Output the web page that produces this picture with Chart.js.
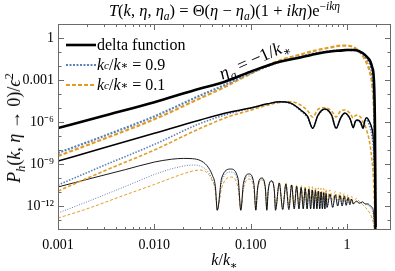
<!DOCTYPE html>
<html>
<head>
<meta charset="utf-8">
<script src="https://cdn.jsdelivr.net/npm/chart.js@4.4.1/dist/chart.umd.min.js"></script>
<style>
  html, body { margin:0; padding:0; background:#fff; }
  #wrap { position:relative; width:395px; height:271px; font-family:"Liberation Serif","DejaVu Serif",serif; color:#000; }
  #chart { position:absolute; left:0; top:0; }
  .txt { position:absolute; white-space:nowrap; line-height:1; }
  .title { left:0; width:449px; top:3px; text-align:center; font-size:16.5px; }
  .xlab { left:0; width:449px; top:252px; text-align:center; font-size:16px; }
  .ylab { left:14px; top:128px; font-size:18px; transform:translate(-50%,-50%) rotate(-90deg); }
  .anno { left:254px; top:59px; font-size:18px; transform:translate(-50%,-50%) rotate(-24deg); }
  .leg { left:66px; font-size:16px; display:flex; align-items:center; }
  .leg svg { margin-right:1px; }
  sub, sup { font-size:70%; line-height:0; }
  i { font-style:italic; }
</style>
</head>
<body>
<div id="wrap">
  <canvas id="chart" width="395" height="271"></canvas>
  <div class="txt title"><i>T</i>(<i>k</i>, <i>η</i>, <i>η</i><sub><i>a</i></sub>) = Θ(<i>η</i> − <i>η</i><sub><i>a</i></sub>)(1 + <i>ikη</i>)e<sup>−<i>ikη</i></sup></div>
  <div class="txt xlab"><i>k</i>/<i>k</i><sub>∗</sub></div>
  <div class="txt ylab"><i>P</i><sub><i>h</i></sub>(<i>k</i>, <i>η</i> → 0)/<i>ϵ</i><sup>2</sup></div>
  <div class="txt anno"><i>η</i><sub><i>a</i></sub> = −1/<i>k</i><sub>∗</sub></div>
  <div class="txt leg" style="top:37px"><svg width="30" height="6"><line x1="0" y1="3" x2="30" y2="3" stroke="#000" stroke-width="2.6"/></svg>delta function</div>
  <div class="txt leg" style="top:57px"><svg width="30" height="6"><line x1="0" y1="3" x2="30" y2="3" stroke="#5E81B5" stroke-width="2.2" stroke-dasharray="2 1.5"/></svg><i>k</i><sub><i>c</i></sub>/<i>k</i><sub>∗</sub>&nbsp;= 0.9</div>
  <div class="txt leg" style="top:77px"><svg width="30" height="6"><line x1="0" y1="3" x2="30" y2="3" stroke="#E19C24" stroke-width="2.2" stroke-dasharray="4 2"/></svg><i>k</i><sub><i>c</i></sub>/<i>k</i><sub>∗</sub>&nbsp;= 0.1</div>
</div>
<script>
/********************
 * Data
 * values are log10 of P_h(k, eta->0)/eps^2
 ********************/
const xTickVals = [0.001, 0.01, 0.1, 1];
const xTickLabels = ["0.001", "0.010", "0.100", "1"];
const yTickVals = [1, 1e-3, 1e-6, 1e-9, 1e-12];
const yTickLabels = ["1", "0.001", "10⁻⁶", "10⁻⁹", "10⁻¹²"];

// eta_a = -1/k*  (thick curves)
const kThick = [0.001, 0.003, 0.01, 0.03, 0.05, 0.1, 0.2, 0.3, 0.5, 0.7, 0.85, 1, 1.2, 1.45, 1.65, 1.75, 1.82, 1.9, 1.95, 1.99];
const thickDelta = [-6.43, -5.55, -4.58, -3.6, -3.2, -2.4, -1.7, -1.45, -1.1, -0.95, -0.9, -0.86, -0.86, -1.07, -1.43, -1.7, -2.07, -3.0, -6.6, -17];
const thickKc09  = [-8.21, -7.0, -5.6, -4.1, -3.45, -2.5, -1.7, -1.4, -1.05, -0.92, -0.87, -0.85, -0.88, -1.15, -1.6, -2.0, -2.6, -4.5, -9, -17];
const thickKc01  = [-8.43, -7.2, -5.8, -4.3, -3.6, -2.55, -1.6, -1.25, -0.85, -0.65, -0.55, -0.55, -0.7, -1.25, -2.0, -2.6, -3.3, -5, -8, -17];

// middle curves
const kMid = [0.001, 0.003, 0.01, 0.03, 0.06, 0.1, 0.15, 0.2, 0.26, 0.33, 0.39, 0.44, 0.5, 0.59, 0.69, 0.77,
              0.86, 0.95, 1.08, 1.16, 1.22, 1.27, 1.38, 1.47, 1.53, 1.6, 1.7, 1.8, 1.88, 1.93, 1.97, 1.99];
const midDelta = [-8.79, -7.84, -6.8, -5.85, -5.3, -5.0, -4.7, -4.55, -4.65, -5.14, -5.6, -6.45, -5.5, -5.07, -5.5, -6.45,
                  -5.7, -5.36, -5.8, -6.4, -5.95, -5.86, -6.0, -6.45, -5.9, -5.7, -5.95, -6.4, -7.2, -9, -12, -17];
const midKc09  = [-10.5, -9.1, -7.6, -6.1, -5.4, -5.0, -4.72, -4.58, -4.68, -5.2, -5.7, -6.45, -5.55, -5.1, -5.5, -6.45,
                  -5.7, -5.4, -5.8, -6.4, -6.0, -5.9, -6.05, -6.45, -6.0, -5.85, -6.2, -6.9, -8, -10, -13, -17];
const midKc01  = [-10.93, -9.5, -8.0, -6.45, -5.6, -5.15, -4.8, -4.6, -4.55, -4.79, -5.2, -5.64, -5.1, -4.98, -5.2, -5.64,
                  -5.2, -5.14, -5.4, -5.71, -5.55, -5.5, -5.65, -6.0, -6.2, -6.6, -7.3, -8.5, -10, -12, -14, -17];

// thin curves (fast oscillations)
const kThin = [
  0.001, 0.002, 0.005, 0.01, 0.015, 0.02, 0.025, 0.03, 0.035, 0.04, 0.043,
  0.045, 0.05, 0.062, 0.074,  0.079, 0.084, 0.096, 0.108,  0.113, 0.118, 0.13, 0.142,  0.147, 0.152, 0.164, 0.176,
  0.181, 0.198, 0.215, 0.232, 0.249, 0.266, 0.283, 0.300, 0.317, 0.334,
  0.351, 0.368, 0.385, 0.402, 0.419, 0.436, 0.453, 0.470, 0.487, 0.504,
  0.521, 0.538, 0.555, 0.572, 0.589, 0.606,
  0.62, 0.665, 0.71, 0.755, 0.8, 0.845, 0.89, 0.935, 0.98, 1.025, 1.07, 1.115, 1.16,
  1.25, 1.35, 1.45, 1.55, 1.65, 1.75, 1.82, 1.88, 1.93, 1.96, 1.99
];
const thinDelta = [
  -10.64, -10.1, -9.4, -8.86, -8.66, -8.6, -8.62, -8.75, -9.1, -9.8, -10.6,
  -12.3, -10.0, -9.36, -10.05,  -12.3, -10.4, -9.71, -10.4,  -12.3, -10.7, -10.0, -10.7,  -12.3, -10.9, -10.2, -10.9,
  -12.3, -10.36, -12.25, -10.43, -12.25, -10.5, -12.2, -10.6, -12.2, -10.68,
  -12.2, -10.75, -12.2, -10.8, -12.2, -10.85, -12.2, -10.9, -12.2, -10.95,
  -12.2, -11.0, -12.2, -11.05, -12.2, -11.1,
  -12.1, -11.15, -12.1, -11.2, -12.0, -11.25, -12.0, -11.3, -11.95, -11.4, -11.9, -11.5, -11.85,
  -11.65, -11.8, -11.7, -11.85, -11.85, -12.0, -12.1, -12.4, -13.5, -15, -17
];
const thinKc09 = [
  -12.5, -11.7, -10.6, -9.75, -9.35, -9.15, -9.07, -9.15, -9.45, -10.1, -10.8,
  -12.3, -10.3, -9.57, -10.3,  -12.3, -10.6, -9.86, -10.6,  -12.3, -10.75, -10.05, -10.75,  -12.3, -10.9, -10.22, -10.9,
  -12.3, -10.38, -12.25, -10.45, -12.25, -10.52, -12.2, -10.6, -12.2, -10.68,
  -12.2, -10.75, -12.2, -10.8, -12.2, -10.85, -12.2, -10.9, -12.2, -10.95,
  -12.2, -11.0, -12.2, -11.05, -12.2, -11.1,
  -12.1, -11.15, -12.1, -11.2, -12.0, -11.25, -12.0, -11.3, -11.95, -11.4, -11.9, -11.5, -11.85,
  -11.7, -11.8, -11.75, -11.9, -11.95, -12.1, -12.3, -12.7, -14, -15.5, -17
];
const thinKc01 = [
  -12.86, -12.2, -11.2, -10.46, -10.0, -9.7, -9.5, -9.43, -9.6, -10.2, -10.9,
  -12.3, -10.7, -9.93, -10.7,  -12.3, -10.8, -10.07, -10.8,  -12.3, -10.85, -10.14, -10.85,  -12.2, -10.9, -10.2, -10.9,
  -12.1, -10.29, -12.0, -10.36, -11.9, -10.43, -11.85, -10.48, -11.8, -10.53,
  -11.75, -10.57, -11.7, -10.6, -11.7, -10.63, -11.65, -10.66, -11.65, -10.7,
  -11.6, -10.72, -11.6, -10.75, -11.6, -10.8,
  -11.6, -10.85, -11.6, -10.95, -11.6, -11.0, -11.65, -11.1, -11.65, -11.2, -11.7, -11.3, -11.75,
  -11.45, -11.7, -11.9, -12.1, -12.3, -12.6, -12.86, -13.3, -14, -15, -17
];

/********************
 * Styling helpers
 ********************/
const BLUE = "#5E81B5";
const ORANGE = "#E19C24";

function pts(ks, logs){
  return ks.map((k, i) => ({ x: k, y: Math.pow(10, logs[i]) }));
}

function line(ks, logs, color, width, dash){
  return {
    data: pts(ks, logs),
    borderColor: color,
    borderWidth: width,
    borderDash: dash || [],
    pointRadius: 0,
    fill: false,
    cubicInterpolationMode: "monotone"
  };
}

/********************
 * Frame + inward ticks (Mathematica style)
 ********************/
const frameTicks = {
  id: "frameTicks",
  afterDraw(chart){
    const { ctx, chartArea: a, scales } = chart;
    const xs = scales.x, ys = scales.y;
    ctx.save();
    ctx.strokeStyle = "#6b6b6b";
    ctx.lineWidth = 1;
    ctx.strokeRect(a.left + 0.5, a.top + 0.5, a.right - a.left - 1, a.bottom - a.top - 1);

    function tickX(v, len){
      const px = Math.round(xs.getPixelForValue(v)) + 0.5;
      if(px <= a.left + 1 || px >= a.right - 1) return;
      ctx.beginPath();
      ctx.moveTo(px, a.bottom); ctx.lineTo(px, a.bottom - len);
      ctx.moveTo(px, a.top); ctx.lineTo(px, a.top + len);
      ctx.stroke();
    }
    function tickY(v, len){
      const py = Math.round(ys.getPixelForValue(v)) + 0.5;
      if(py <= a.top + 1 || py >= a.bottom - 1) return;
      ctx.beginPath();
      ctx.moveTo(a.left, py); ctx.lineTo(a.left + len, py);
      ctx.moveTo(a.right, py); ctx.lineTo(a.right - len, py);
      ctx.stroke();
    }

    for(let d = -3; d <= 0; d++){
      tickX(Math.pow(10, d), 6);
      for(let m = 2; m <= 9; m++) tickX(m * Math.pow(10, d), 3);
    }
    for(let d = -13; d <= 1; d++){
      tickY(Math.pow(10, d), d % 3 === 0 ? 6 : 3.5);
    }
    ctx.restore();
  }
};

/********************
 * Chart
 ********************/
const ctx = document.getElementById("chart").getContext("2d");
new Chart(ctx, {
  type: "line",
  data: {
    datasets: [
      line(kThick, thickDelta, "#000", 2.6),
      line(kThick, thickKc09, BLUE, 2.2, [2, 1.5]),
      line(kThick, thickKc01, ORANGE, 2.2, [4, 2]),
      line(kMid, midDelta, "#000", 1.5),
      line(kMid, midKc09, BLUE, 1.6, [1.5, 1.5]),
      line(kMid, midKc01, ORANGE, 1.6, [3.5, 2]),
      line(kThin, thinDelta, "#000", 0.9),
      line(kThin, thinKc09, BLUE, 1, [1, 1.5]),
      line(kThin, thinKc01, ORANGE, 1, [3, 2])
    ]
  },
  options: {
    responsive: false,
    animation: false,
    layout: { padding: { left: 0, right: 4, top: 24, bottom: 0 } },
    plugins: { legend: { display: false }, tooltip: { enabled: false } },
    scales: {
      x: {
        type: "logarithmic",
        min: 0.001,
        max: 2.86,
        afterBuildTicks: s => { s.ticks = xTickVals.map(v => ({ value: v })); },
        afterFit: s => { s.height = 41; },
        grid: { display: false, drawTicks: false },
        border: { display: false },
        ticks: {
          autoSkip: false, maxRotation: 0, padding: 7, color: "#000",
          font: { family: "Liberation Serif", size: 14 },
          callback: (v, i) => xTickLabels[i]
        }
      },
      y: {
        type: "logarithmic",
        min: 1.94e-14,
        max: 10,
        afterBuildTicks: s => { s.ticks = yTickVals.map(v => ({ value: v })); },
        afterFit: s => { s.width = 58; },
        grid: { display: false, drawTicks: false },
        border: { display: false },
        ticks: {
          autoSkip: false, padding: 4, color: "#000",
          font: { family: "Liberation Serif", size: 14 },
          callback: (v, i) => yTickLabels[i]
        }
      }
    }
  },
  plugins: [frameTicks]
});
</script>
</body>
</html>
